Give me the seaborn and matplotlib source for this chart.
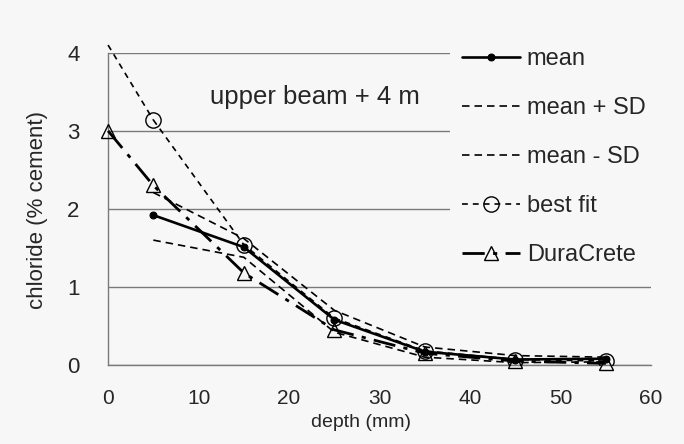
import matplotlib
matplotlib.use("Agg")
import matplotlib.pyplot as plt
import seaborn as sns
import numpy as np

# ---- data ----
depth = [5, 15, 25, 35, 45, 55]
mean = [1.92, 1.51, 0.58, 0.17, 0.07, 0.08]
mean_plus_sd = [2.21, 1.62, 0.70, 0.23, 0.12, 0.10]
mean_minus_sd = [1.60, 1.38, 0.42, 0.10, 0.03, 0.04]
bestfit_depth = [0, 5, 15, 25, 35, 45, 55]
bestfit = [4.10, 3.14, 1.54, 0.60, 0.18, 0.07, 0.05]
dura_depth = [0, 5, 15, 25, 35, 45, 55]
duracrete = [3.00, 2.30, 1.18, 0.45, 0.15, 0.05, 0.02]

x_ticks = [0, 10, 20, 30, 40, 50, 60]
y_ticks = [0, 1, 2, 3, 4]
title_text = "upper beam + 4 m"
x_label = "depth (mm)"
y_label = "chloride (% cement)"

sns.set_style("white")
plt.rcParams["font.family"] = ["Liberation Sans", "DejaVu Sans"]

bg = "#f7f7f7"
fig = plt.figure(figsize=(6.84, 4.44), dpi=100, facecolor=bg)
ax = fig.add_axes([0.158, 0.178, 0.794, 0.703])
ax.set_facecolor(bg)

k = "black"
sns.lineplot(x=depth, y=mean, ax=ax, color=k, lw=1.9, marker="o", markersize=5,
             markeredgecolor=k, markerfacecolor=k, label="mean", zorder=5)
sns.lineplot(x=depth, y=mean_plus_sd, ax=ax, color=k, lw=1.2, linestyle=(0, (4.5, 3)),
             label="mean + SD", zorder=4)
sns.lineplot(x=depth, y=mean_minus_sd, ax=ax, color=k, lw=1.2, linestyle=(0, (4.5, 3)),
             label="mean - SD", zorder=4)
# best fit: unmarked segment from the surface, then marked points
sns.lineplot(x=bestfit_depth[:2], y=bestfit[:2], ax=ax, color=k, lw=1.2,
             linestyle=(0, (3.5, 3)), clip_on=False, zorder=4)
sns.lineplot(x=bestfit_depth[1:], y=bestfit[1:], ax=ax, color=k, lw=1.2,
             linestyle=(0, (3.5, 3)), marker="o", markersize=11,
             markerfacecolor="none", markeredgecolor=k, markeredgewidth=1.0,
             label="best fit", zorder=4)
sns.lineplot(x=dura_depth, y=duracrete, ax=ax, color=k, lw=2.0,
             linestyle=(0, (8, 3, 1.5, 3)), marker="^", markersize=10,
             markerfacecolor="none", markeredgecolor=k, markeredgewidth=1.0,
             label="DuraCrete", zorder=4, clip_on=False)

ax.set_xlim(0, 60)
ax.set_ylim(0, 4)
ax.set_xticks(x_ticks)
ax.set_yticks(y_ticks)
ax.tick_params(axis="x", labelsize=15, direction="out", length=5, width=1,
               color="#7a7a7a", pad=12.5)
ax.tick_params(axis="y", labelsize=16, direction="out", length=7, width=1,
               color="#7a7a7a", pad=13.5)
ax.yaxis.grid(True, color="#7a7a7a", lw=1.0)
ax.xaxis.grid(False)
for s in ["top", "right"]:
    ax.spines[s].set_visible(False)
for s in ["left", "bottom"]:
    ax.spines[s].set_color("#7a7a7a")
    ax.spines[s].set_linewidth(1.0)

ax.set_xlabel(x_label, fontsize=14)
ax.set_ylabel(y_label, fontsize=16)
ax.xaxis.set_label_coords(0.466, -0.158)
ax.yaxis.set_label_coords(-0.11, 0.495)
ax.text(0.187, 0.86, title_text, transform=ax.transAxes, fontsize=18.5, ha="left",
        va="center")

leg = ax.legend(loc="upper left", bbox_to_anchor=(0.658, 0.919),
                bbox_transform=fig.transFigure, fontsize=17, frameon=True,
                handlelength=2.45, handletextpad=0.3, labelspacing=1.15,
                borderpad=0.5, borderaxespad=0)
leg.get_frame().set_facecolor(bg)
leg.get_frame().set_edgecolor("none")
leg.get_frame().set_alpha(1)
leg.set_zorder(10)

fig.savefig("out.png", dpi=100, facecolor=bg)
